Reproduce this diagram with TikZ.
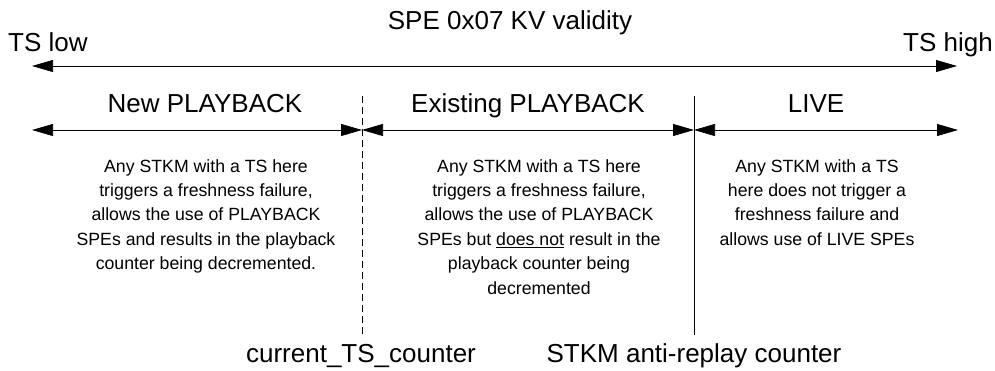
\documentclass[tikz,border=0pt]{standalone}
\usepackage{fontspec}
\setmainfont{Liberation Sans}
\usetikzlibrary{positioning}
\usetikzlibrary{arrows.meta}

\begin{document}
\begin{tikzpicture}[x=1pt,y=-1pt,
    big/.style={font=\fontsize{26}{30}\selectfont,inner sep=0pt,anchor=base},
    body/.style={font=\fontsize{17.7}{24.4}\selectfont,align=center,inner sep=0pt,anchor=north},
    span/.style={{Triangle[length=21pt,width=12pt]}-{Triangle[length=21pt,width=12pt]},line width=0.75pt},
    divider/.style={line width=0.75pt}]
    \useasboundingbox (0,0) rectangle (995,370);
    % axis
    \node[big] (title) at (510,29) {SPE 0x07 KV validity};
    \node[big,anchor=base west] (low) at (8,51) {TS low};
    \node[big,anchor=base east] (high) at (993,51) {TS high};
    \coordinate (L) at (32,66);
    \coordinate (H) at (957,66);
    \draw[span] (L) -- (H);
    % limits
    \coordinate (C1) at (362,96);
    \coordinate (C2) at (362,335);
    \coordinate (R1) at (694,96);
    \coordinate (R2) at (694,335);
    \draw[divider,dash pattern=on 7pt off 4pt] (C1) -- (C2);
    \draw[divider] (R1) -- (R2);
    \coordinate (A0) at (32,130);
    \coordinate (A1) at (362,130);
    \coordinate (A2) at (694,130);
    \coordinate (A3) at (958,130);
    \draw[span] (A0) -- (A1);
    \draw[span] (A1) -- (A2);
    \draw[span] (A2) -- (A3);
    % zones
    \node[big] (new) at (205,112) {New PLAYBACK};
    \node[big] (old) at (528,112) {Existing PLAYBACK};
    \node[big] (live) at (816,112) {LIVE};
    \node[body] (newtxt) at (206,159) {Any STKM with a TS here\\triggers a freshness failure,\\allows the use of PLAYBACK\\SPEs and results in the playback\\counter being decremented.};
    \node[body] (oldtxt) at (539,159) {Any STKM with a TS here\\triggers a freshness failure,\\allows the use of PLAYBACK\\SPEs but \underline{does not} result in the\\playback counter being\\decremented};
    \node[body] (livetxt) at (817,159) {Any STKM with a TS\\here does not trigger a\\freshness failure and\\allows use of LIVE SPEs};
    % counters
    \node[big] (cur) at (361,362) {current\_TS\_counter};
    \node[big] (anti) at (694,362) {STKM anti-replay counter};
\end{tikzpicture}
\end{document}
